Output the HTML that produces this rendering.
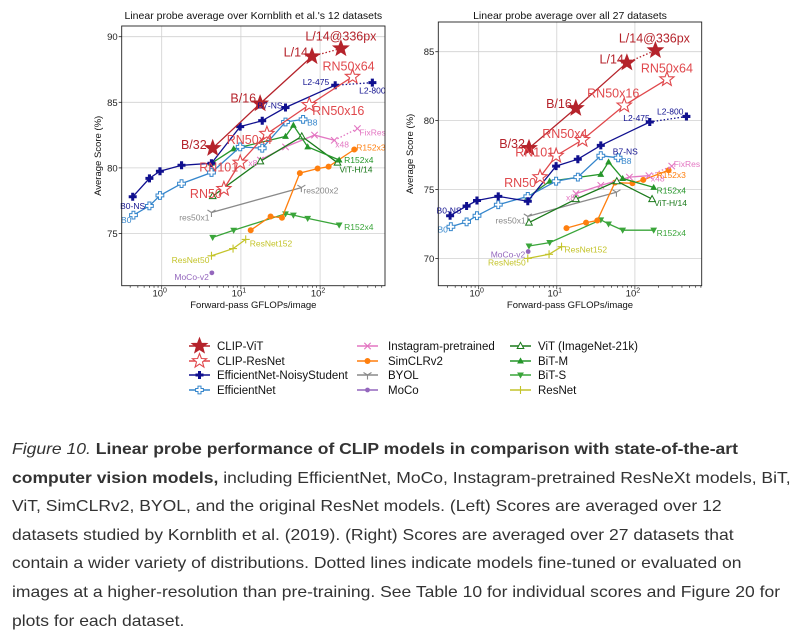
<!DOCTYPE html>
<html><head><meta charset="utf-8"><style>
html,body{margin:0;padding:0;background:#fff;width:803px;height:640px;overflow:hidden}
#chart{position:absolute;left:0;top:0}
#caption{position:absolute;left:12px;top:436px;font-family:"Liberation Sans",Arial,sans-serif;font-size:16px;line-height:28.6px;color:#333;white-space:nowrap;transform:scaleX(1.095);transform-origin:0 0}
</style></head><body>
<svg id="chart" width="803" height="420" xmlns="http://www.w3.org/2000/svg" font-family="Liberation Sans, DejaVu Sans, sans-serif"></svg>
<div id="caption"><i>Figure 10.</i> <b>Linear probe performance of CLIP models in comparison with state-of-the-art</b><br><b>computer vision models,</b> including EfficientNet, MoCo, Instagram-pretrained ResNeXt models, BiT,<br>ViT, SimCLRv2, BYOL, and the original ResNet models. (Left) Scores are averaged over 12<br>datasets studied by Kornblith et al. (2019). (Right) Scores are averaged over 27 datasets that<br>contain a wider variety of distributions. Dotted lines indicate models fine-tuned or evaluated on<br>images at a higher-resolution than pre-training. See Table 10 for individual scores and Figure 20 for<br>plots for each dataset.</div>
<script>
// ---- data ----
const gflopsVit=[4.4,17.5,79,183];
const vitLeft=[81.5,84.9,88.5,89.1];
const vitRight=[78.0,80.9,84.2,85.1];
const gflopsRn=[6.1,9.8,21.3,73,257];
const rnLeft=[78.4,80.4,82.6,84.8,86.95];
const rnRight=[75.9,77.45,78.6,81.1,83.0];
const gflopsEffNS=[0.43,0.70,0.95,1.78,4.25,9.8,18.6,36.6,155,457];
const effNSLeft=[77.8,79.2,79.75,80.2,80.35,83.15,83.6,84.6,86.3,86.5];
const effNSRight=[73.1,73.8,74.2,74.5,74.15,76.7,77.2,78.2,79.9,80.3];
const gflopsEff=[0.44,0.70,0.95,1.78,4.25,9.8,18.6,36.6,61];
const effLeft=[76.4,77.1,77.9,78.8,79.65,81.6,81.5,83.5,83.7];
const effRight=[72.3,72.65,73.1,73.9,74.5,75.6,75.9,77.45,77.3];
const gflopsInsta=[17.6,36.6,85,151,296];
const instaLeft=[80.6,81.6,82.5,82.1,83.0];
const instaRight=[74.7,75.3,75.9,76.0,76.7];
const gflopsSimclr=[13.3,23.7,33,55.5,93,128,270];
const simclrLeft=[75.25,76.3,76.2,79.6,79.95,80.1,81.4];
const simclrRight=[72.2,72.6,72.75,75.5,75.45,75.7,76.4];
const gflopsByol=[4.25,58];
const byolLeft=[76.6,78.5];
const byolRight=[73.05,74.8];
const gflopsMoco=[4.3];
const mocoLeft=[72.0];
const mocoRight=[70.5];
const gflopsVit21k=[4.4,17.6,58.7,166];
const vit21kLeft=[77.85,80.5,82.4,80.4];
const vit21kRight=[72.6,74.3,75.6,74.3];
const gflopsBitM=[4.25,8.1,36.6,46,69.7,174];
const bitmLeft=[80.35,81.45,82.4,83.25,81.6,80.6];
const bitmRight=[74.45,75.6,76.1,77.0,75.8,75.15];
const gflopsBitS=[4.4,8.1,36.6,46,69.7,174];
const bitsLeft=[74.7,75.25,76.5,76.4,76.15,75.65];
const bitsRight=[70.9,71.15,72.8,72.5,72.05,72.05];
const gflopsResnet=[4.25,7.96,11.5];
const resnetLeft=[73.3,73.85,74.55];
const resnetRight=[70.0,70.3,70.85];
const yTicksLeft=[75,80,85,90];
const yTicksRight=[70,75,80,85];
const xTickExps=[0,1,2];
const legendNames=["CLIP-ViT","CLIP-ResNet","EfficientNet-NoisyStudent","EfficientNet","Instagram-pretrained","SimCLRv2","BYOL","MoCo","ViT (ImageNet-21k)","BiT-M","BiT-S","ResNet"];

const series=[
 {key:'bits',name:'BiT-S',x:gflopsBitS,L:bitsLeft,R:bitsRight,c:'#3aa53a',m:'tridown'},
 {key:'resnet',name:'ResNet',x:gflopsResnet,L:resnetLeft,R:resnetRight,c:'#c4c42a',m:'plus'},
 {key:'moco',name:'MoCo',x:gflopsMoco,L:mocoLeft,R:mocoRight,c:'#9467bd',m:'dot'},
 {key:'byol',name:'BYOL',x:gflopsByol,L:byolLeft,R:byolRight,c:'#8a8a8a',m:'tri1'},
 {key:'simclr',name:'SimCLRv2',x:gflopsSimclr,L:simclrLeft,R:simclrRight,c:'#ff7f0e',m:'hex'},
 {key:'insta',name:'Instagram-pretrained',x:gflopsInsta,L:instaLeft,R:instaRight,c:'#e377c2',m:'x',dotted:true},
 {key:'vit21k',name:'ViT (ImageNet-21k)',x:gflopsVit21k,L:vit21kLeft,R:vit21kRight,c:'#1b7a1b',m:'triup-hollow'},
 {key:'bitm',name:'BiT-M',x:gflopsBitM,L:bitmLeft,R:bitmRight,c:'#25962a',m:'triup'},
 {key:'eff',name:'EfficientNet',x:gflopsEff,L:effLeft,R:effRight,c:'#3586cc',m:'P-hollow'},
 {key:'effns',name:'EfficientNet-NoisyStudent',x:gflopsEffNS,L:effNSLeft,R:effNSRight,c:'#10108f',m:'P',dotted:true},
 {key:'rn',name:'CLIP-ResNet',x:gflopsRn,L:rnLeft,R:rnRight,c:'#e0484c',m:'star-hollow'},
 {key:'vit',name:'CLIP-ViT',x:gflopsVit,L:vitLeft,R:vitRight,c:'#b5232b',m:'star',dotted:true}
];
const legendOrder=['vit','rn','effns','eff','insta','simclr','byol','moco','vit21k','bitm','bits','resnet'];

// label spec: [seriesKey, pointIndex, text, dx, dy, anchor, big]
const labelsLeft=[
 ['vit',0,'B/32',-6,-3,'end',1],['vit',1,'B/16',-4,-5,'end',1],['vit',2,'L/14',-4,-4,'end',1],['vit',3,'L/14@336px',0,-12,'middle',1],
 ['rn',4,'RN50x64',-4,-10,'middle',1],['rn',3,'RN50x16',3,6,'start',1],['rn',2,'RN50x4',5,6,'end',1],['rn',1,'RN101',-2,5,'end',1],['rn',0,'RN50',-2,5,'end',1],
 ['effns',0,'B0-NS',0,9,'middle',0],['eff',0,'B0',-2,5,'end',0],['effns',7,'B7-NS',-3,-2,'end',0],['effns',8,'L2-475',-6,-3,'end',0],['effns',9,'L2-800',0,8,'middle',0],
 ['eff',8,'B8',4,3,'start',0],['insta',0,'x8',-3,3,'end',0],['insta',3,'x48',1,4,'start',0],['insta',4,'FixRes',2,4,'start',0],
 ['simclr',6,'R152x3',2,-2,'start',0],['bitm',5,'R152x4',5,0,'start',0],['vit21k',3,'ViT-H/14',2,7,'start',0],
 ['byol',1,'res200x2',2,3,'start',0],['byol',0,'res50x1',-2,5,'end',0],['bits',5,'R152x4',5,2,'start',0],
 ['resnet',2,'ResNet152',4,4,'start',0],['resnet',0,'ResNet50',-2,4,'end',0],['moco',0,'MoCo-v2',-3,4,'end',0]
];
const labelsRight=[
 ['vit',0,'B/32',-4,-4,'end',1],['vit',1,'B/16',-4,-4,'end',1],['vit',2,'L/14',-3,-3,'end',1],['vit',3,'L/14@336px',-1,-12,'middle',1],
 ['rn',4,'RN50x64',0,-11,'middle',1],['rn',3,'RN50x16',-11,-12,'middle',1],['rn',2,'RN50x4',5,-6,'end',1],['rn',1,'RN101',-2,-3,'end',1],['rn',0,'RN50',-4,6,'end',1],
 ['effns',0,'B0-NS',-1,-5,'middle',0],['eff',0,'B0',-3,3,'end',0],['effns',7,'B7-NS',12,6,'start',0],['effns',8,'L2-475',0,-4,'end',0],['effns',9,'L2-800',-3,-5,'end',0],
 ['eff',8,'B8',3,3,'start',0],['insta',0,'x8',-1,4,'end',0],['insta',3,'x48',2,3,'start',0],['insta',4,'FixRes',2,-2,'start',0],
 ['simclr',6,'R152x3',-12,5,'start',0],['bitm',5,'R152x4',3,3,'start',0],['vit21k',3,'ViT-H/14',2,4,'start',0],
 ['byol',0,'res50x1',-2,4,'end',0],['bits',5,'R152x4',3,3,'start',0],
 ['resnet',2,'ResNet152',3,3,'start',0],['resnet',0,'ResNet50',-2,4,'end',0],['moco',0,'MoCo-v2',-3,3,'end',0]
];

const NS='http://www.w3.org/2000/svg';
const svg=document.getElementById('chart');
function el(tag,attrs,parent){const e=document.createElementNS(NS,tag);for(const k in attrs)e.setAttribute(k,attrs[k]);(parent||svg).appendChild(e);return e;}

function starPts(cx,cy,r){let p=[];for(let i=0;i<10;i++){const a=-Math.PI/2+i*Math.PI/5;const rr=i%2?r*0.42:r;p.push((cx+rr*Math.cos(a)).toFixed(1)+','+(cy+rr*Math.sin(a)).toFixed(1));}return p.join(' ');}
function pPts(cx,cy,s){const a=s*0.38;return [[-a,-s],[a,-s],[a,-a],[s,-a],[s,a],[a,a],[a,s],[-a,s],[-a,a],[-s,a],[-s,-a],[-a,-a]].map(q=>(cx+q[0]).toFixed(1)+','+(cy+q[1]).toFixed(1)).join(' ');}
function marker(g,type,x,y,c){
 if(type==='star')el('polygon',{points:starPts(x,y,8),fill:c,stroke:c,'stroke-width':1},g);
 else if(type==='star-hollow')el('polygon',{points:starPts(x,y,7.5),fill:'#fff',stroke:c,'stroke-width':1.1},g);
 else if(type==='P')el('polygon',{points:pPts(x,y,4),fill:c},g);
 else if(type==='P-hollow')el('polygon',{points:pPts(x,y,3.9),fill:'#fff',stroke:c,'stroke-width':1},g);
 else if(type==='x'){el('path',{d:`M${x-3.2},${y-3.2}L${x+3.2},${y+3.2}M${x-3.2},${y+3.2}L${x+3.2},${y-3.2}`,stroke:c,'stroke-width':1.1},g);}
 else if(type==='plus'){el('path',{d:`M${x-4},${y}L${x+4},${y}M${x},${y-4}L${x},${y+4}`,stroke:c,'stroke-width':1.1},g);}
 else if(type==='dot')el('circle',{cx:x,cy:y,r:2.4,fill:c},g);
 else if(type==='hex')el('circle',{cx:x,cy:y,r:3,fill:c},g);
 else if(type==='tri1'){el('path',{d:`M${x},${y}L${x},${y+4.5}M${x},${y}L${x-4},${y-2.5}M${x},${y}L${x+4},${y-2.5}`,stroke:c,'stroke-width':1.1},g);}
 else if(type==='triup')el('polygon',{points:`${x},${y-3.6} ${x-3.4},${y+2.5} ${x+3.4},${y+2.5}`,fill:c},g);
 else if(type==='triup-hollow')el('polygon',{points:`${x},${y-3.6} ${x-3.3},${y+2.5} ${x+3.3},${y+2.5}`,fill:'#fff',stroke:c,'stroke-width':1},g);
 else if(type==='tridown')el('polygon',{points:`${x},${y+3.6} ${x-3.4},${y-2.5} ${x+3.4},${y-2.5}`,fill:c},g);
}

function drawPanel(cfg){
 const P=el('g',{});
 
 
 const X=g=>cfg.x0+cfg.dec*Math.log10(g);
 const Y=v=>cfg.y0+(cfg.v0-v)*cfg.pu;
 xTickExps.forEach(e=>{const gl=el('line',{x1:X(Math.pow(10,e)),x2:X(Math.pow(10,e)),y1:cfg.top,y2:cfg.bot,stroke:'#d0d0d0','stroke-width':0.8},P);
  
  });
 cfg.yt.forEach(v=>{const gl=el('line',{x1:cfg.left,x2:cfg.right,y1:Y(v),y2:Y(v),stroke:'#d0d0d0','stroke-width':0.8},P);
  
  
  const t=el('text',{x:cfg.left-4,y:Y(v)+3.5,'font-size':9.5,'text-anchor':'end',fill:'#222'},P);t.textContent=v;
  
  
  el('line',{x1:cfg.left-3,x2:cfg.left,y1:Y(v),y2:Y(v),stroke:'#222','stroke-width':0.8},P);});
 for(let e=-1;e<=2;e++)for(let k=1;k<10;k++){const g=k*Math.pow(10,e);const xx=X(g);if(xx<cfg.left||xx>cfg.right)continue;
  el('line',{x1:xx,x2:xx,y1:cfg.bot,y2:cfg.bot+(k===1?3.5:2),stroke:'#222','stroke-width':0.7},P);}
 xTickExps.forEach(e=>{const t=el('text',{x:X(Math.pow(10,e))-2,y:cfg.bot+11,'font-size':9.5,'text-anchor':'middle',fill:'#222'},P);
  t.textContent='10';const s=el('tspan',{dy:-4,'font-size':7},t);s.textContent=e;
  
  });
 const byKey={};
 series.forEach(s=>{byKey[s.key]=s;
  const vals=cfg.side==='L'?s.L:s.R;
  const g=el('g',{},P);
  
  
  const n=vals.length;const solidN=s.dotted?n-1:n;
  if(solidN>1){const pl=el('polyline',{points:vals.slice(0,solidN).map((v,i)=>X(s.x[i]).toFixed(1)+','+Y(v).toFixed(1)).join(' '),fill:'none',stroke:s.c,'stroke-width':1.3},g);
   
   }
  if(s.dotted&&n>1){const dl=el('line',{x1:X(s.x[n-2]),y1:Y(vals[n-2]),x2:X(s.x[n-1]),y2:Y(vals[n-1]),stroke:s.c,'stroke-width':1.3,'stroke-dasharray':'1.5,2'},g);
   
   }
  vals.forEach((v,i)=>{const mg=el('g',{},g);
   
   
   marker(mg,s.m,X(s.x[i]),Y(v),s.c);});
 });
 cfg.labels.forEach(l=>{const s=byKey[l[0]];const vals=cfg.side==='L'?s.L:s.R;
  const t=el('text',{x:X(s.x[l[1]])+l[3],y:Y(vals[l[1]])+l[4]+(l[6]?4:3),'font-size':l[6]?12.5:8.5,'text-anchor':l[5],fill:s.c},P);
  t.textContent=l[2];
  
  });
 const fr=el('rect',{x:cfg.left,y:cfg.top,width:cfg.right-cfg.left,height:cfg.bot-cfg.top,fill:'none',stroke:'#222','stroke-width':0.9},P);
 
 
 const ti=el('text',{x:(cfg.left+cfg.right)/2,y:19,'font-size':10.5,'text-anchor':'middle',fill:'#111'},P);ti.textContent=cfg.title;
 
 
 const xl=el('text',{x:(cfg.left+cfg.right)/2,y:308,'font-size':9.5,'text-anchor':'middle',fill:'#111'},P);xl.textContent='Forward-pass GFLOPs/image';
 
 
 const cy=(cfg.top+cfg.bot)/2;
 const yl=el('text',{x:cfg.ylx,y:cy,'font-size':9.5,'text-anchor':'middle',fill:'#111',transform:`rotate(-90 ${cfg.ylx} ${cy})`},P);yl.textContent='Average Score (%)';
 
 
}

drawPanel({name:'left-chart',side:'L',x0:161.7,dec:79.2,y0:36.7,v0:90,pu:13.12,left:121.7,right:385,top:26,bot:285.7,yt:yTicksLeft,labels:labelsLeft,ylx:101,title:"Linear probe average over Kornblith et al.'s 12 datasets"});
drawPanel({name:'right-chart',side:'R',x0:478.7,dec:78.1,y0:51.7,v0:85,pu:13.78,left:438.3,right:701.7,top:22,bot:285.7,yt:yTicksRight,labels:labelsRight,ylx:413,title:"Linear probe average over all 27 datasets"});

const leg=el('g',{});


const colX=[[189,217],[357,388],[510,538]];
const rowY=[346,361,375,390];
legendOrder.forEach((k,i)=>{const s=series.find(q=>q.key===k);const col=Math.floor(i/4),row=i%4;
 const g=el('g',{},leg);
 
 
 const lx=colX[col][0],y=rowY[row];
 el('line',{x1:lx,x2:lx+21,y1:y,y2:y,stroke:s.c,'stroke-width':1.4},g);
 marker(g,s.m,lx+10.5,y,s.c);
 const t=el('text',{x:colX[col][1],y:y+4,'font-size':11.5,fill:'#111'},g);t.textContent=legendNames[i];
});
</script>
</body></html>
